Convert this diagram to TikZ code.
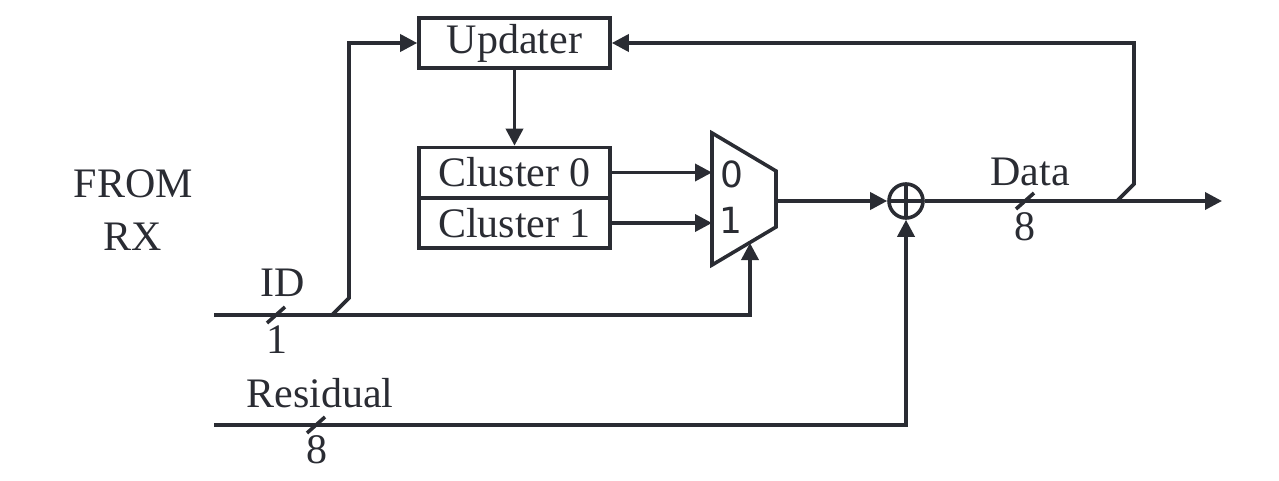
\documentclass[tikz,border=0pt]{standalone}
\usepackage{fontspec}
\setmainfont{Liberation Serif}
\newfontfamily\muxfont{DejaVu Sans}
\usetikzlibrary{arrows.meta,calc}
\definecolor{ink}{RGB}{42,44,51}
\newcommand{\lbl}{\fontsize{21}{25}\selectfont}
\newcommand{\muxlbl}{\muxfont\fontsize{18}{21}\selectfont}
\begin{document}
\begin{tikzpicture}[x=0.5pt,y=-0.5pt,
  wire/.style={draw=ink, line width=1.8pt, line join=miter},
  arr/.style={wire, -{Triangle[length=8.5pt,width=8.5pt]}},
  blockbox/.style={draw=ink, line width=1.8pt, minimum width=95.5pt,
    minimum height=25pt, inner sep=0pt, font=\lbl, text=ink},
  txt/.style={font=\lbl, text=ink, inner sep=0pt, anchor=base},
  muxtxt/.style={font=\muxlbl, text=ink, inner sep=0pt, anchor=base},
  adder/.style={circle, draw=ink, line width=1.8pt, minimum size=17pt, inner sep=0pt,
    path picture={\draw[ink, line width=1.8pt]
      (path picture bounding box.north) -- (path picture bounding box.south)
      (path picture bounding box.west) -- (path picture bounding box.east);}},
  busslash/.style={wire}]
\useasboundingbox (0,0) rectangle (1279,481);

% blocks
\node[blockbox] (upd) at (514.5,43) {Updater};
\node[blockbox] (c0) at (514.5,172.5) {Cluster 0};
\node[blockbox] (c1) at (514.5,223) {Cluster 1};

% multiplexer outline
\coordinate (mtl) at (712,133);
\coordinate (mtr) at (776,171);
\coordinate (mbr) at (776,227);
\coordinate (mbl) at (712,265);
\coordinate (mout) at (776,201);
\coordinate (msel) at (750,243);
\draw[wire] (mtl) -- (mtr) -- (mbr) -- (mbl) -- cycle;
\node[muxtxt] (m0) at (732,187) {0};
\node[muxtxt] (m1) at (731,233) {1};

% adder
\node[adder] (add) at (906,201) {};

% inputs and outputs
\coordinate (idin) at (214,315);
\coordinate (resin) at (214,425);
\coordinate (dout) at (1222,201);
\coordinate (idsel) at (750,315);
\coordinate (idtap) at (332,315);
\coordinate (idup) at (349,298);
\coordinate (idtop) at (349,43);
\coordinate (dtap) at (1117,201);
\coordinate (dup) at (1134,184);
\coordinate (dtop) at (1134,43);

% labels
\node[txt] (from) at (133.5,197) {FROM};
\node[txt] (rx) at (133,250) {RX};
\node[txt] (idl) at (283,296) {ID};
\node[txt] (idw) at (277,353) {1};
\node[txt] (resl) at (320,407) {Residual};
\node[txt] (resw) at (317,463) {8};
\node[txt] (datal) at (1030,185) {Data};
\node[txt] (dataw) at (1025,240) {8};

% connectors
\draw[arr] (upd.south) -- (c0.north);
\draw[arr] (c0.east) -- (c0.east -| mtl);
\draw[arr] (c1.east) -- (c1.east -| mtl);
\draw[arr] (mout) -- (add.west);
\draw[arr] (add.east) -- (dout);
\draw[arr] (idin) -- (idsel) -- (msel);
\draw[arr] (resin) -| (add.south);
\draw[arr] (idtap) -- (idup) -- (idtop) -- (upd.west);
\draw[arr] (dtap) -- (dup) -- (dtop) -- (upd.east);

% bus width marks
\coordinate (sid) at (276,315);
\coordinate (sres) at (316,425);
\coordinate (sdat) at (1025,201);
\foreach \s in {sid,sres,sdat}
  \draw[busslash] ($(\s)+(-9,8)$) -- ($(\s)+(9,-8)$);
\end{tikzpicture}
\end{document}
